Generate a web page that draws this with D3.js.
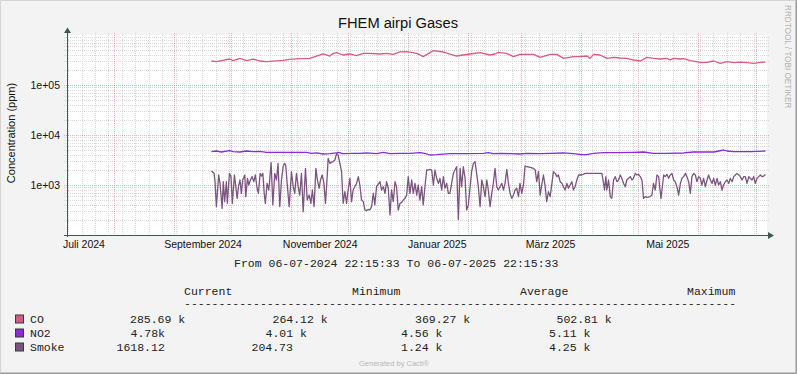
<!DOCTYPE html>
<html>
<head>
<meta charset="utf-8">
<script src="https://cdn.jsdelivr.net/npm/d3@7"></script>
<style>
  body { margin: 0; background: #f3f3f3; }
  svg { display: block; }
</style>
</head>
<body>
<script>
// chart text
const chartTitle = "FHEM airpi Gases";
const yTitle = "Concentration (ppm)";
const rangeText = "From 06-07-2024 22:15:33 To 06-07-2025 22:15:33";

// time range (wall clock, handled as UTC)
const startTime = Date.UTC(2024, 6, 6, 22, 15, 33);
const endTime = Date.UTC(2025, 6, 6, 22, 15, 33);

// axis ticks
const yTicks = [1e3, 1e4, 1e5];
const yTickLabels = ["1e+03", "1e+04", "1e+05"];
const xTickMonths = [[2024, 6], [2024, 8], [2024, 10], [2025, 0], [2025, 2], [2025, 4]];
const xTickLabels = ["Juli 2024", "September 2024", "November 2024", "Januar 2025", "März 2025", "Mai 2025"];

// series: [days since start, ppm]
const co = [
  [75.7,302000],[78.3,293000],[85.2,331000],[87.0,307000],[90.5,341000],[94.0,307000],[97.4,331000],
  [100.9,302000],[104.4,293000],[113.0,311000],[116.5,326000],[121.7,336000],[126.9,341000],[130.5,380000],
  [133.9,417000],[137.4,380000],[139.1,430000],[140.9,443000],[144.3,398000],[147.8,417000],[151.3,386000],
  [154.7,430000],[158.2,430000],[163.5,417000],[167.0,430000],[170.4,410000],[173.9,460000],[177.4,464000],
  [182.6,430000],[186.0,369000],[191.3,486000],[196.5,457000],[203.4,380000],[210.4,417000],[215.6,443000],
  [220.8,398000],[223.4,417000],[225.1,450000],[229.5,430000],[233.0,369000],[236.4,410000],[243.4,410000],
  [246.9,357000],[252.1,410000],[255.6,410000],[259.0,341000],[264.2,369000],[267.7,369000],[271.2,380000],
  [272.9,341000],[274.7,410000],[278.1,398000],[281.6,341000],[285.1,357000],[288.5,347000],[292.0,341000],
  [295.5,316000],[299.0,302000],[302.5,357000],[305.9,341000],[309.4,331000],[312.9,341000],[314.6,316000],
  [316.4,341000],[319.8,331000],[321.6,336000],[325.1,307000],[330.3,284000],[333.8,284000],[337.3,302000],
  [340.7,271000],[344.2,293000],[347.7,280000],[351.2,288000],[354.7,280000],[358.1,271000],[361.6,284000],
  [364.2,286000]
];

const no2 = [
  [75.7,4640],[78.3,4786],[80.9,4570],[85.2,4860],[87.0,4640],[90.5,4570],[94.0,4786],[97.4,4640],
  [100.9,4710],[104.4,4500],[113.0,4500],[121.7,4500],[125.2,4500],[127.8,4300],[130.5,4370],[133.9,4170],
  [137.4,4230],[140.9,4370],[141.7,4500],[144.3,4230],[149.5,4300],[153.0,4300],[156.5,4370],[161.7,4230],
  [165.2,4500],[168.7,4230],[173.9,4300],[179.1,4300],[184.3,4430],[186.9,4300],[189.5,3980],[193.0,4040],
  [199.9,4230],[208.6,4230],[217.3,4300],[219.9,4430],[222.5,4230],[226.0,4300],[231.2,4230],[236.4,4170],
  [239.9,4300],[246.9,4230],[252.1,4300],[259.0,4370],[264.2,4230],[268.6,4040],[271.0,4040],[274.7,4300],
  [279.9,4430],[286.9,4430],[295.5,4500],[300.7,4570],[305.9,4300],[312.9,4300],[321.6,4370],[326.8,4570],
  [337.3,4570],[342.5,5012],[344.0,4786],[347.7,4640],[356.4,4640],[364.2,4786]
];

const smoke = [
  [75.7,1905],[77.1,1710],[77.6,1165],[78.3,370],[79.5,1585],[80.2,1080],[81.3,340],[81.9,1165],[82.6,465],
  [83.5,1165],[84.0,430],[85.1,1710],[85.9,1470],[86.6,430],[87.7,1585],[88.4,925],[89.1,540],[89.8,925],
  [90.6,1260],[91.3,680],[92.0,1260],[93.1,1585],[93.6,585],[94.5,1360],[95.2,1000],[96.0,1260],[96.9,1470],
  [97.8,1165],[98.6,1585],[99.5,860],[100.2,680],[101.1,1710],[101.8,1510],[102.5,1710],[103.2,680],[103.8,430],
  [104.7,1080],[105.6,795],[106.8,2800],[107.7,400],[108.7,1710],[109.6,1260],[110.4,2710],[111.3,370],
  [112.2,1260],[113.1,2400],[113.8,2710],[114.4,2510],[115.3,925],[116.2,370],[117.4,1850],[118.3,925],
  [119.1,680],[120.0,1710],[120.9,925],[121.7,630],[122.6,1710],[123.5,293],[124.7,2150],[125.6,500],
  [126.6,630],[127.5,430],[128.3,795],[129.2,370],[130.1,2150],[130.9,1260],[131.8,860],[132.5,1260],
  [133.4,1585],[134.3,1080],[135.1,430],[135.8,1080],[136.5,3400],[137.4,2710],[138.8,2930],[140.0,3160],
  [140.9,4250],[141.7,3980],[142.6,2710],[143.5,1850],[144.3,430],[145.2,735],[146.1,430],[146.9,795],
  [147.8,1360],[148.7,465],[149.5,795],[150.4,925],[151.3,1080],[152.2,1470],[153.0,1000],[153.9,500],
  [154.8,465],[155.6,316],[156.5,307],[157.4,325],[158.2,316],[159.1,370],[160.0,680],[160.8,400],[161.7,925],
  [163.5,1165],[164.3,795],[165.2,925],[166.1,680],[166.9,1165],[167.8,860],[168.7,251],[169.5,795],
  [170.4,465],[171.3,1165],[172.1,925],[173.0,316],[173.9,430],[174.7,445],[175.6,500],[176.5,540],
  [177.4,630],[178.2,1470],[179.1,680],[180.0,1260],[180.8,680],[181.7,1080],[182.6,630],[183.4,1000],
  [184.3,500],[185.2,925],[186.0,400],[186.9,925],[187.8,1995],[188.6,1995],[189.5,2050],[190.4,1995],
  [191.3,1000],[192.1,1995],[193.0,1360],[193.9,1080],[194.7,1360],[195.6,795],[196.5,1470],[197.3,860],
  [198.2,1080],[199.1,680],[199.9,680],[200.8,1080],[201.7,1710],[202.5,1995],[203.4,2320],[204.3,205],
  [205.2,2150],[206.0,925],[206.9,2320],[207.8,1360],[208.6,316],[209.5,400],[210.4,925],[211.2,1850],
  [212.1,2710],[213.0,2930],[213.8,1710],[214.7,925],[215.6,370],[216.5,1260],[217.3,925],[218.2,585],
  [219.1,1260],[219.9,795],[220.8,370],[221.7,680],[222.5,1080],[223.4,2150],[224.3,925],[225.1,795],
  [226.0,925],[226.9,1080],[227.8,795],[228.6,1080],[229.5,2050],[230.4,1080],[231.2,680],[232.1,540],
  [233.0,630],[233.8,795],[234.7,860],[235.6,585],[236.4,1080],[237.3,680],[238.2,1000],[239.0,2400],
  [239.9,2320],[241.7,2250],[243.4,2150],[244.3,1995],[245.1,1165],[246.0,1850],[246.9,630],[247.7,1000],
  [248.6,1585],[249.5,925],[250.3,465],[251.2,735],[252.1,585],[253.0,1080],[253.8,1850],[254.7,1710],
  [255.6,1470],[256.4,1585],[257.3,1165],[258.2,1080],[259.0,925],[259.9,795],[260.8,1080],[261.6,860],
  [262.5,1000],[263.4,1165],[264.2,795],[265.1,925],[266.0,1260],[266.9,1585],
  [268.6,1585],[270.3,1710],[275.5,1710],[279.0,1710],[279.9,1080],[280.4,795],[281.1,1470],[281.6,795],
  [282.5,1260],[283.4,585],[284.2,540],[285.1,1260],[286.0,1470],[286.8,1165],[287.7,1260],[288.6,1585],
  [289.4,1360],[290.3,1080],[291.2,925],[292.0,1260],[292.9,1360],[293.8,1470],[294.7,1260],[295.5,1360],
  [296.4,1710],[297.3,1585],[298.1,1640],[299.0,1470],[299.9,1260],[300.7,540],[301.6,585],[302.5,565],
  [304.2,585],[305.1,630],[305.9,1080],[306.8,795],[307.7,1585],[308.6,1470],[309.1,925],[309.8,540],
  [310.3,795],[311.2,1585],[312.0,1470],[312.9,1640],[313.8,1360],[314.6,1585],[315.5,1710],[316.4,1260],
  [317.2,1165],[318.1,925],[319.0,630],[319.9,1080],[320.7,1360],[321.6,1470],[322.5,1710],[323.3,1470],
  [324.2,1165],[325.1,680],[325.9,1470],[326.8,1710],[327.7,1585],[328.5,1165],[329.4,1470],[330.3,1360],
  [331.1,1000],[332.0,1360],[332.9,925],[333.8,1260],[334.6,1585],[335.5,1260],[336.4,1080],[337.2,1360],
  [338.1,1000],[339.0,1360],[339.8,1000],[340.7,1165],[341.6,795],[342.4,1000],[343.3,1165],[344.2,1260],
  [345.1,1080],[345.9,1360],[346.8,1165],[347.7,1470],[348.5,1585],[349.4,1710],[350.3,1585],[351.1,1470],
  [352.0,1260],[352.9,1470],[353.7,1470],[354.6,1080],[355.5,1470],[356.3,1360],[357.2,1260],[358.1,1470],
  [358.9,1080],[359.8,1360],[360.7,1470],[361.6,1585],[362.4,1470],[363.3,1510],[364.2,1618]
];

// legend
const seriesNames = ["CO", "NO2", "Smoke"];
const seriesColors = ["#d65c84", "#8a2bd6", "#7a5580"];
const legendHeader = ["Current", "Minimum", "Average", "Maximum"];
const legendCurrent = ["285.69 k", "4.78k", "1618.12"];
const legendMinimum = ["264.12 k", "4.01 k", "204.73"];
const legendAverage = ["369.27 k", "4.56 k", "1.24 k"];
const legendMaximum = ["502.81 k", "5.11 k", "4.25 k"];

const width = 797;
const height = 374;
const plot = { left: 66, right: 767, top: 35, bottom: 235 };

const svg = d3.select("body")
  .append("svg")
  .attr("width", width)
  .attr("height", height);

// background + frame
svg.append("rect").attr("width", width).attr("height", height).attr("fill", "#f3f3f3");
svg.append("path").attr("d", `M0.5,${height} V0.5 H${width}`).attr("fill", "none").attr("stroke", "#d4d4d4");
svg.append("path").attr("d", `M0,${height - 0.5} H${width - 0.5} V0`).attr("fill", "none").attr("stroke", "#9c9c9c");
svg.append("path").attr("d", `M1,${height - 1.5} H${width - 1.5} V1`).attr("fill", "none").attr("stroke", "#c4c4c4");

const x = d3.scaleUtc()
  .domain([new Date(startTime), new Date(endTime)])
  .range([plot.left, plot.right]);

const y = d3.scaleLog()
  .domain([100, 1e6])
  .range([plot.bottom, plot.top]);

const toDate = d => new Date(startTime + d * 864e5);
const px = v => Math.round(v) + 0.5;

// canvas
svg.append("rect")
  .attr("x", plot.left)
  .attr("y", plot.top)
  .attr("width", plot.right - plot.left)
  .attr("height", plot.bottom - plot.top)
  .attr("fill", "#ffffff");

const minorColor = "#d8d8d8";
const majorColor = "#ff3030";

// minor horizontal grid (log 2..9)
const minorY = [];
for (let k = 2; k <= 5; k++) {
  for (let m = 2; m <= 9; m++) minorY.push(m * Math.pow(10, k));
}
svg.append("g")
  .selectAll("line")
  .data(minorY.filter(v => y(v) >= plot.top))
  .join("line")
  .attr("x1", plot.left - 2).attr("x2", plot.right + 2)
  .attr("y1", d => px(y(d))).attr("y2", d => px(y(d)))
  .attr("stroke", minorColor)
  .attr("stroke-dasharray", "1,1");

// minor vertical grid (weeks)
svg.append("g")
  .selectAll("line")
  .data(d3.utcMonday.range(new Date(startTime), new Date(endTime)))
  .join("line")
  .attr("x1", d => px(x(d))).attr("x2", d => px(x(d)))
  .attr("y1", plot.top - 2).attr("y2", plot.bottom + 2)
  .attr("stroke", minorColor)
  .attr("stroke-dasharray", "1,1");

// major grid: decades and month starts
svg.append("g")
  .selectAll("line")
  .data(yTicks)
  .join("line")
  .attr("x1", plot.left - 2).attr("x2", plot.right + 2)
  .attr("y1", d => px(y(d))).attr("y2", d => px(y(d)))
  .style("stroke", majorColor)
  .style("stroke-opacity", 0.4)
  .attr("stroke-dasharray", "1,1");

svg.append("g")
  .selectAll("line")
  .data(d3.utcMonth.range(new Date(startTime), new Date(endTime)))
  .join("line")
  .attr("x1", d => px(x(d))).attr("x2", d => px(x(d)))
  .attr("y1", plot.top - 2).attr("y2", plot.bottom + 2)
  .style("stroke", majorColor)
  .style("stroke-opacity", 0.4)
  .attr("stroke-dasharray", "1,1");

// lines
const line = d3.line()
  .x(d => x(toDate(d[0])))
  .y(d => y(d[1]));

[co, no2, smoke].forEach((series, i) => {
  svg.append("path")
    .datum(series)
    .attr("fill", "none")
    .attr("stroke", seriesColors[i])
    .attr("stroke-width", 1.3)
    .attr("stroke-linejoin", "round")
    .attr("d", line);
});

// axis lines + arrows
const axisColor = "#3b5b52";
svg.append("line")
  .attr("x1", 67.5).attr("x2", 67.5)
  .attr("y1", plot.bottom + 2).attr("y2", 31)
  .attr("stroke", axisColor);
svg.append("line")
  .attr("x1", 64).attr("x2", 770)
  .attr("y1", plot.bottom + 0.5).attr("y2", plot.bottom + 0.5)
  .attr("stroke", axisColor);
svg.append("path").attr("d", "M64,33 L71,33 L67.5,27.5 Z").attr("fill", axisColor);
svg.append("path").attr("d", "M768,232 L768,239 L774,235.5 Z").attr("fill", axisColor);

// y tick labels
const yAxis = svg.append("g")
  .attr("transform", "translate(60,0)")
  .call(d3.axisLeft(y).tickValues(yTicks).tickFormat((d, i) => yTickLabels[i]).tickSize(0).tickPadding(0));
yAxis.select(".domain").remove();
yAxis.selectAll("text")
  .attr("font-family", "'Liberation Sans', Arial, sans-serif")
  .attr("font-size", 10.5)
  .attr("fill", "#111");

// x tick labels (middle of month)
const xTickDates = xTickMonths.map(m => new Date(Date.UTC(m[0], m[1], 16)));
const xAxis = svg.append("g")
  .attr("transform", `translate(0,${plot.bottom})`)
  .call(d3.axisBottom(x).tickValues(xTickDates).tickFormat((d, i) => xTickLabels[i]).tickSize(0).tickPadding(5.8));
xAxis.select(".domain").remove();
xAxis.selectAll("text")
  .attr("font-family", "'Liberation Sans', Arial, sans-serif")
  .attr("font-size", 10.5)
  .attr("fill", "#111");

// title
svg.append("text")
  .attr("x", 398)
  .attr("y", 28)
  .attr("text-anchor", "middle")
  .attr("font-family", "'Liberation Sans', Arial, sans-serif")
  .attr("font-size", 14.7)
  .attr("fill", "#111")
  .text(chartTitle);

// y title
svg.append("text")
  .attr("transform", "translate(15,133) rotate(-90)")
  .attr("text-anchor", "middle")
  .attr("font-family", "'Liberation Sans', Arial, sans-serif")
  .attr("font-size", 11)
  .attr("fill", "#111")
  .text(yTitle);

// watermark
svg.append("text")
  .attr("transform", "translate(785,5) rotate(90)")
  .attr("font-family", "'Liberation Sans', Arial, sans-serif")
  .attr("font-size", 8.2)
  .attr("fill", "#b2b2b2")
  .text("RRDTOOL / TOBI OETIKER");

// legend
const mono = "'Liberation Mono', 'Courier New', monospace";
const legend = svg.append("g")
  .attr("font-family", mono)
  .attr("font-size", 11.5)
  .attr("fill", "#222");

legend.append("text").attr("x", 234).attr("y", 266.5).text(rangeText);

const headerX = [184, 352, 520, 687];
legend.selectAll(".hdr")
  .data(legendHeader)
  .enter()
  .append("text")
  .attr("x", (d, i) => headerX[i])
  .attr("y", 294.5)
  .text(d => d);

legend.append("text").attr("x", 184).attr("y", 306.5).text("-".repeat(80));

const rowY = [322.5, 336.5, 350.5];
const cellX = [
  [130, 272.5, 415, 556.5],
  [130.5, 265.5, 401, 549],
  [116.5, 251.5, 401, 549]
];
const cols = [legendCurrent, legendMinimum, legendAverage, legendMaximum];

seriesNames.forEach((name, i) => {
  svg.append("rect")
    .attr("x", 15.5).attr("y", rowY[i] - 7.5)
    .attr("width", 8).attr("height", 8)
    .attr("fill", seriesColors[i])
    .attr("stroke", "#2f3f3c");
  legend.append("text").attr("x", 30).attr("y", rowY[i]).text(name);
  cols.forEach((col, j) => {
    legend.append("text").attr("x", cellX[i][j]).attr("y", rowY[i]).text(col[i]);
  });
});

svg.append("text")
  .attr("x", 359)
  .attr("y", 366)
  .attr("font-family", "'Liberation Sans', Arial, sans-serif")
  .attr("font-size", 7.5)
  .attr("fill", "#b8b8b8")
  .text("Generated by Cacti®");
</script>
</body>
</html>
